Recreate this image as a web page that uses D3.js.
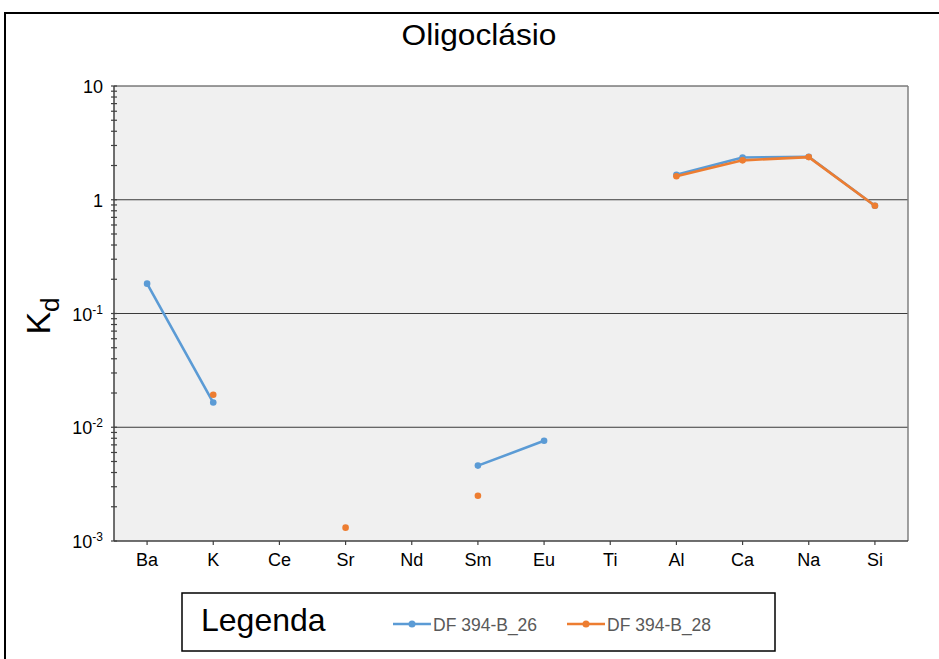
<!DOCTYPE html>
<html>
<head>
<meta charset="utf-8">
<script src="https://cdn.jsdelivr.net/npm/d3@7"></script>
<style>
  html, body { margin: 0; padding: 0; background: #fff; }
  svg { display: block; font-family: "Liberation Sans", Arial, sans-serif; }
</style>
</head>
<body>
<svg id="chart" width="939" height="659"></svg>
<script>
// Elements on the x axis
const elements = ["Ba", "K", "Ce", "Sr", "Nd", "Sm", "Eu", "Ti", "Al", "Ca", "Na", "Si"];

// Partition coefficients (Kd); null = not determined
const kdDF394B26 = [0.183, 0.0165, null, null, null, 0.0046, 0.0076, null, 1.66, 2.35, 2.39, 0.885];
const kdDF394B28 = [null, 0.0193, null, 0.00131, null, 0.0025, null, null, 1.61, 2.22, 2.37, 0.885];

const seriesNames = ["DF 394-B_26", "DF 394-B_28"];
const seriesColors = ["#5b9bd5", "#ed7d31"];

// Major y ticks (powers of ten)
const yMajorTicks = [0.001, 0.01, 0.1, 1, 10];
const yTickExponents = [-3, -2, -1, null, null];

const svg = d3.select("#chart");
const plot = { left: 114, right: 908, top: 86, bottom: 541 };

// Outer frame
svg.append("path")
  .attr("d", "M5,700 L5,13 L960,13")
  .attr("fill", "none").attr("stroke", "#000").attr("stroke-width", 2);

const x = d3.scaleBand().domain(elements).range([plot.left, plot.right]);
const y = d3.scaleLog().domain([0.001, 10]).range([plot.bottom, plot.top]);

// Plot background
svg.append("rect")
  .attr("x", plot.left).attr("y", plot.top)
  .attr("width", plot.right - plot.left).attr("height", plot.bottom - plot.top)
  .attr("fill", "#f0f0f0");

// Horizontal grid lines at each decade
svg.append("g").selectAll("line").data(yMajorTicks.slice(1))
  .join("line")
  .attr("x1", plot.left).attr("x2", plot.right)
  .attr("y1", d => y(d)).attr("y2", d => y(d))
  .attr("stroke", "#3a3a3a").attr("stroke-width", 1.2);

// Right edge of the plot area
svg.append("line")
  .attr("x1", plot.right).attr("x2", plot.right)
  .attr("y1", plot.top).attr("y2", plot.bottom)
  .attr("stroke", "#808080").attr("stroke-width", 1.5);

// Y axis with minor ticks crossing the line
const minorTicks = [];
for (let e = -3; e < 1; e++) {
  for (let m = 2; m <= 9; m++) minorTicks.push(m * Math.pow(10, e));
}
const yAxisG = svg.append("g");
yAxisG.append("line")
  .attr("x1", plot.left).attr("x2", plot.left)
  .attr("y1", plot.top).attr("y2", plot.bottom)
  .attr("stroke", "#404040").attr("stroke-width", 1.5);
yAxisG.selectAll("line.minor").data(minorTicks.concat(yMajorTicks))
  .join("line").attr("class", "minor")
  .attr("x1", plot.left - 3).attr("x2", plot.left + 3)
  .attr("y1", d => y(d)).attr("y2", d => y(d))
  .attr("stroke", "#404040").attr("stroke-width", 1.2);

// Y tick labels
const yLabels = yAxisG.selectAll("text.ylab").data(yMajorTicks)
  .join("text").attr("class", "ylab")
  .attr("x", plot.left - 11)
  .attr("y", d => y(d) + 7)
  .attr("text-anchor", "end")
  .attr("font-size", 18)
  .attr("fill", "#000");
yLabels.each(function (d, i) {
  const t = d3.select(this);
  const ex = yTickExponents[i];
  if (ex === null) {
    t.text(String(d));
  } else {
    t.append("tspan").text("10");
    t.append("tspan").attr("font-size", 12).attr("dy", -7).text(String(ex));
  }
});

// X axis
const xAxisG = svg.append("g");
xAxisG.append("line")
  .attr("x1", plot.left).attr("x2", plot.right)
  .attr("y1", plot.bottom).attr("y2", plot.bottom)
  .attr("stroke", "#404040").attr("stroke-width", 1.5);
xAxisG.selectAll("line.xt").data(elements)
  .join("line").attr("class", "xt")
  .attr("x1", d => x(d) + x.bandwidth() / 2).attr("x2", d => x(d) + x.bandwidth() / 2)
  .attr("y1", plot.bottom).attr("y2", plot.bottom + 4)
  .attr("stroke", "#404040").attr("stroke-width", 1.2);
xAxisG.selectAll("text").data(elements)
  .join("text")
  .attr("x", d => x(d) + x.bandwidth() / 2)
  .attr("y", plot.bottom + 25)
  .attr("text-anchor", "middle")
  .attr("font-size", 18)
  .attr("fill", "#000")
  .text(d => d);

// Title
svg.append("text")
  .attr("x", 479).attr("y", 45)
  .attr("text-anchor", "middle")
  .attr("font-size", 29)
  .attr("textLength", 155)
  .attr("lengthAdjust", "spacingAndGlyphs")
  .attr("fill", "#000")
  .text("Oligoclásio");

// Y axis title: K with subscript d
const yTitle = svg.append("text")
  .attr("transform", "translate(50,316) rotate(-90)")
  .attr("text-anchor", "middle")
  .attr("font-size", 34)
  .attr("fill", "#000");
yTitle.append("tspan").text("K");
yTitle.append("tspan").attr("font-size", 26).attr("dy", 9).text("d");

// Series lines and markers
const cx = (d, i) => x(elements[i]) + x.bandwidth() / 2;
const line = d3.line()
  .defined(d => d !== null)
  .x((d, i) => cx(d, i))
  .y(d => y(d));

[kdDF394B26, kdDF394B28].forEach((vals, s) => {
  const g = svg.append("g");
  g.append("path")
    .datum(vals)
    .attr("d", line)
    .attr("fill", "none")
    .attr("stroke", seriesColors[s])
    .attr("stroke-width", 2.6)
    .attr("stroke-linejoin", "round");
  g.selectAll("circle")
    .data(vals.map((v, i) => ({ v, i })).filter(d => d.v !== null))
    .join("circle")
    .attr("cx", d => cx(d.v, d.i))
    .attr("cy", d => y(d.v))
    .attr("r", 3.3)
    .attr("fill", seriesColors[s]);
});

// Legend
const legend = svg.append("g");
legend.append("rect")
  .attr("x", 182).attr("y", 593)
  .attr("width", 593).attr("height", 58)
  .attr("fill", "#fff").attr("stroke", "#000").attr("stroke-width", 1.5);
legend.append("text")
  .attr("x", 201).attr("y", 631)
  .attr("font-size", 32)
  .attr("fill", "#000")
  .text("Legenda");
const legendX = [393, 567];
seriesNames.forEach((name, s) => {
  const lx = legendX[s];
  legend.append("line")
    .attr("x1", lx).attr("x2", lx + 38)
    .attr("y1", 624).attr("y2", 624)
    .attr("stroke", seriesColors[s]).attr("stroke-width", 2.6);
  legend.append("circle")
    .attr("cx", lx + 19).attr("cy", 624).attr("r", 3.5)
    .attr("fill", seriesColors[s]);
  legend.append("text")
    .attr("x", lx + 40).attr("y", 631)
    .attr("font-size", 17.5)
    .attr("fill", "#595959")
    .text(name);
});
</script>
</body>
</html>
